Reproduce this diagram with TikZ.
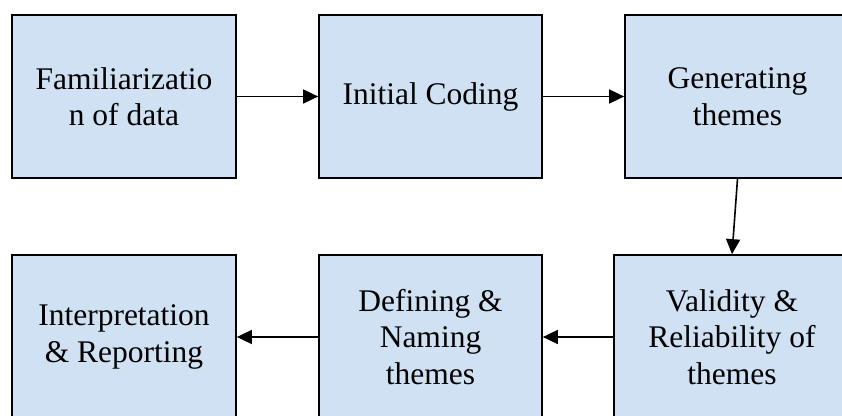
\documentclass[tikz,border=0pt]{standalone}
\usepackage{fontspec}
\setmainfont{Liberation Serif}
\usetikzlibrary{arrows.meta}
\definecolor{boxfill}{RGB}{207,225,242}
\tikzset{
  stage/.style={draw=black, line width=1.7pt, fill=boxfill, align=center,
    inner sep=0pt, font=\fontsize{31.5}{36.5}\selectfont},
  flow/.style={line width=1.6pt, -{Triangle[length=15pt,width=14pt]}}
}
\begin{document}
\begin{tikzpicture}[x=1pt,y=-1pt]
  \useasboundingbox (0,0) rectangle (842,415);
  \clip (0,0) rectangle (842,415);
  % top row
  \node[stage, minimum width=224pt, minimum height=163pt] (fam) at (124,96.5)
    {Familiarizatio\\n of data};
  \node[stage, minimum width=223pt, minimum height=163pt] (ini) at (430.5,96.5)
    {Initial Coding};
  \node[stage, minimum width=225pt, minimum height=163pt] (gen) at (737.5,96.5)
    {Generating\\themes};
  % bottom row
  \node[stage, minimum width=236pt, minimum height=164pt] (val) at (732,337)
    {Validity \&\\Reliability of\\themes};
  \node[stage, minimum width=223pt, minimum height=164pt] (def) at (430.5,337)
    {Defining \&\\Naming\\themes};
  \node[stage, minimum width=224pt, minimum height=164pt] (rep) at (124,337)
    {Interpretation\\\& Reporting};
  % connectors
  \draw[flow] (fam.east) -- (ini.west);
  \draw[flow] (ini.east) -- (gen.west);
  \draw[flow] (gen.south) -- (val.north);
  \draw[flow] (val.west) -- (def.east);
  \draw[flow] (def.west) -- (rep.east);
\end{tikzpicture}
\end{document}
